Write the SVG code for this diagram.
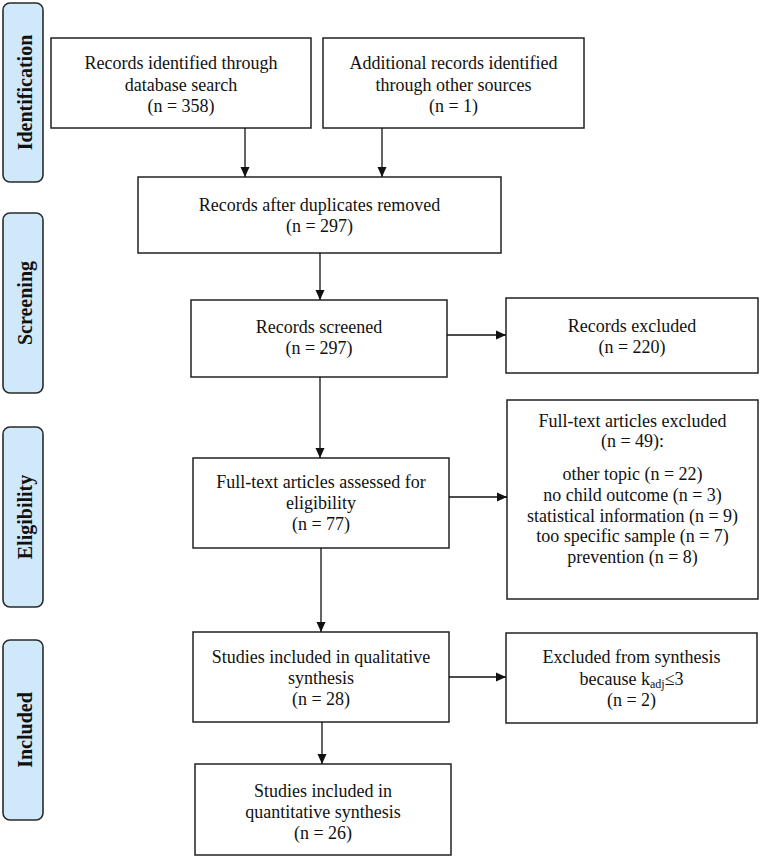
<svg xmlns="http://www.w3.org/2000/svg" width="760" height="858" viewBox="0 0 760 858">
<style>
.box{fill:#fff;stroke:#222;stroke-width:1.5}
.side{fill:#cfe9fb;stroke:#2a2a2a;stroke-width:1.6}
.t{font-family:"Liberation Serif","Times New Roman",serif;font-size:18px;fill:#111;text-anchor:middle}
.s{font-family:"Liberation Serif","Times New Roman",serif;font-size:20px;font-weight:bold;fill:#111;text-anchor:middle}
.c{stroke:#111;stroke-width:1.3;fill:none;marker-end:url(#ah)}
</style>
<defs>
<marker id="ah" viewBox="0 0 10 10" refX="10" refY="5" markerWidth="10" markerHeight="10" markerUnits="userSpaceOnUse" orient="auto">
<path d="M0,0.5 L10,5 L0,9.5 Z" fill="#111"/>
</marker>
</defs>
<g id="side-identification"><rect class="side" x="3" y="3" width="40" height="179" rx="7"/><text class="s" transform="translate(32,92.5) rotate(-90)">Identification</text></g>
<g id="side-screening"><rect class="side" x="3" y="213" width="40" height="180" rx="7"/><text class="s" transform="translate(32,303) rotate(-90)">Screening</text></g>
<g id="side-eligibility"><rect class="side" x="3" y="427" width="40" height="180" rx="7"/><text class="s" transform="translate(32,517) rotate(-90)">Eligibility</text></g>
<g id="side-included"><rect class="side" x="3" y="640" width="40" height="180" rx="7"/><text class="s" transform="translate(32,730) rotate(-90)">Included</text></g>

<g id="database"><rect class="box" x="51" y="38" width="260" height="90"/>
<text class="t" x="181" y="69">Records identified through</text><text class="t" x="181" y="91">database search</text><text class="t" x="181" y="112">(n = 358)</text></g>
<g id="other-sources"><rect class="box" x="323" y="38" width="261" height="90"/>
<text class="t" x="453.5" y="69">Additional records identified</text><text class="t" x="453.5" y="91">through other sources</text><text class="t" x="453.5" y="112">(n = 1)</text></g>
<g id="duplicates"><rect class="box" x="138" y="177" width="363" height="76"/>
<text class="t" x="319.5" y="211">Records after duplicates removed</text><text class="t" x="319.5" y="232">(n = 297)</text></g>
<g id="screened"><rect class="box" x="191" y="300" width="256" height="77"/>
<text class="t" x="319" y="333">Records screened</text><text class="t" x="319" y="354">(n = 297)</text></g>
<g id="records-excluded"><rect class="box" x="506" y="298" width="252" height="75"/>
<text class="t" x="632" y="332">Records excluded</text><text class="t" x="632" y="353">(n = 220)</text></g>
<g id="fulltext-assessed"><rect class="box" x="193" y="458" width="256" height="90"/>
<text class="t" x="321" y="488">Full-text articles assessed for</text><text class="t" x="321" y="509">eligibility</text><text class="t" x="321" y="530">(n = 77)</text></g>
<g id="fulltext-excluded"><rect class="box" x="507" y="400" width="251" height="199"/>
<text class="t" x="632.5" y="427">Full-text articles excluded</text><text class="t" x="632.5" y="447">(n = 49):</text>
<text class="t" x="632.5" y="480">other topic (n = 22)</text><text class="t" x="632.5" y="501">no child outcome (n = 3)</text><text class="t" x="632.5" y="522">statistical information (n = 9)</text><text class="t" x="632.5" y="542">too specific sample (n = 7)</text><text class="t" x="632.5" y="563">prevention (n = 8)</text></g>
<g id="qualitative"><rect class="box" x="193" y="632" width="256" height="90"/>
<text class="t" x="321" y="663">Studies included in qualitative</text><text class="t" x="321" y="684">synthesis</text><text class="t" x="321" y="705">(n = 28)</text></g>
<g id="excluded-synthesis"><rect class="box" x="506" y="633" width="251" height="90"/>
<text class="t" x="631.5" y="663">Excluded from synthesis</text><text class="t" x="631.5" y="685">because k<tspan font-size="12" baseline-shift="-3">adj</tspan>≤3</text><text class="t" x="631.5" y="706">(n = 2)</text></g>
<g id="quantitative"><rect class="box" x="195" y="764" width="256" height="91"/>
<text class="t" x="323" y="797">Studies included in</text><text class="t" x="323" y="818">quantitative synthesis</text><text class="t" x="323" y="839">(n = 26)</text></g>

<g id="connectors">
<line class="c" x1="245" y1="128" x2="245" y2="177"/>
<line class="c" x1="382" y1="128" x2="382" y2="177"/>
<line class="c" x1="320" y1="253" x2="320" y2="300"/>
<line class="c" x1="447" y1="335" x2="506" y2="335"/>
<line class="c" x1="320" y1="377" x2="320" y2="458"/>
<line class="c" x1="449" y1="497" x2="507" y2="497"/>
<line class="c" x1="321" y1="548" x2="321" y2="632"/>
<line class="c" x1="449" y1="677" x2="506" y2="677"/>
<line class="c" x1="322" y1="722" x2="322" y2="764"/>
</g>
</svg>
